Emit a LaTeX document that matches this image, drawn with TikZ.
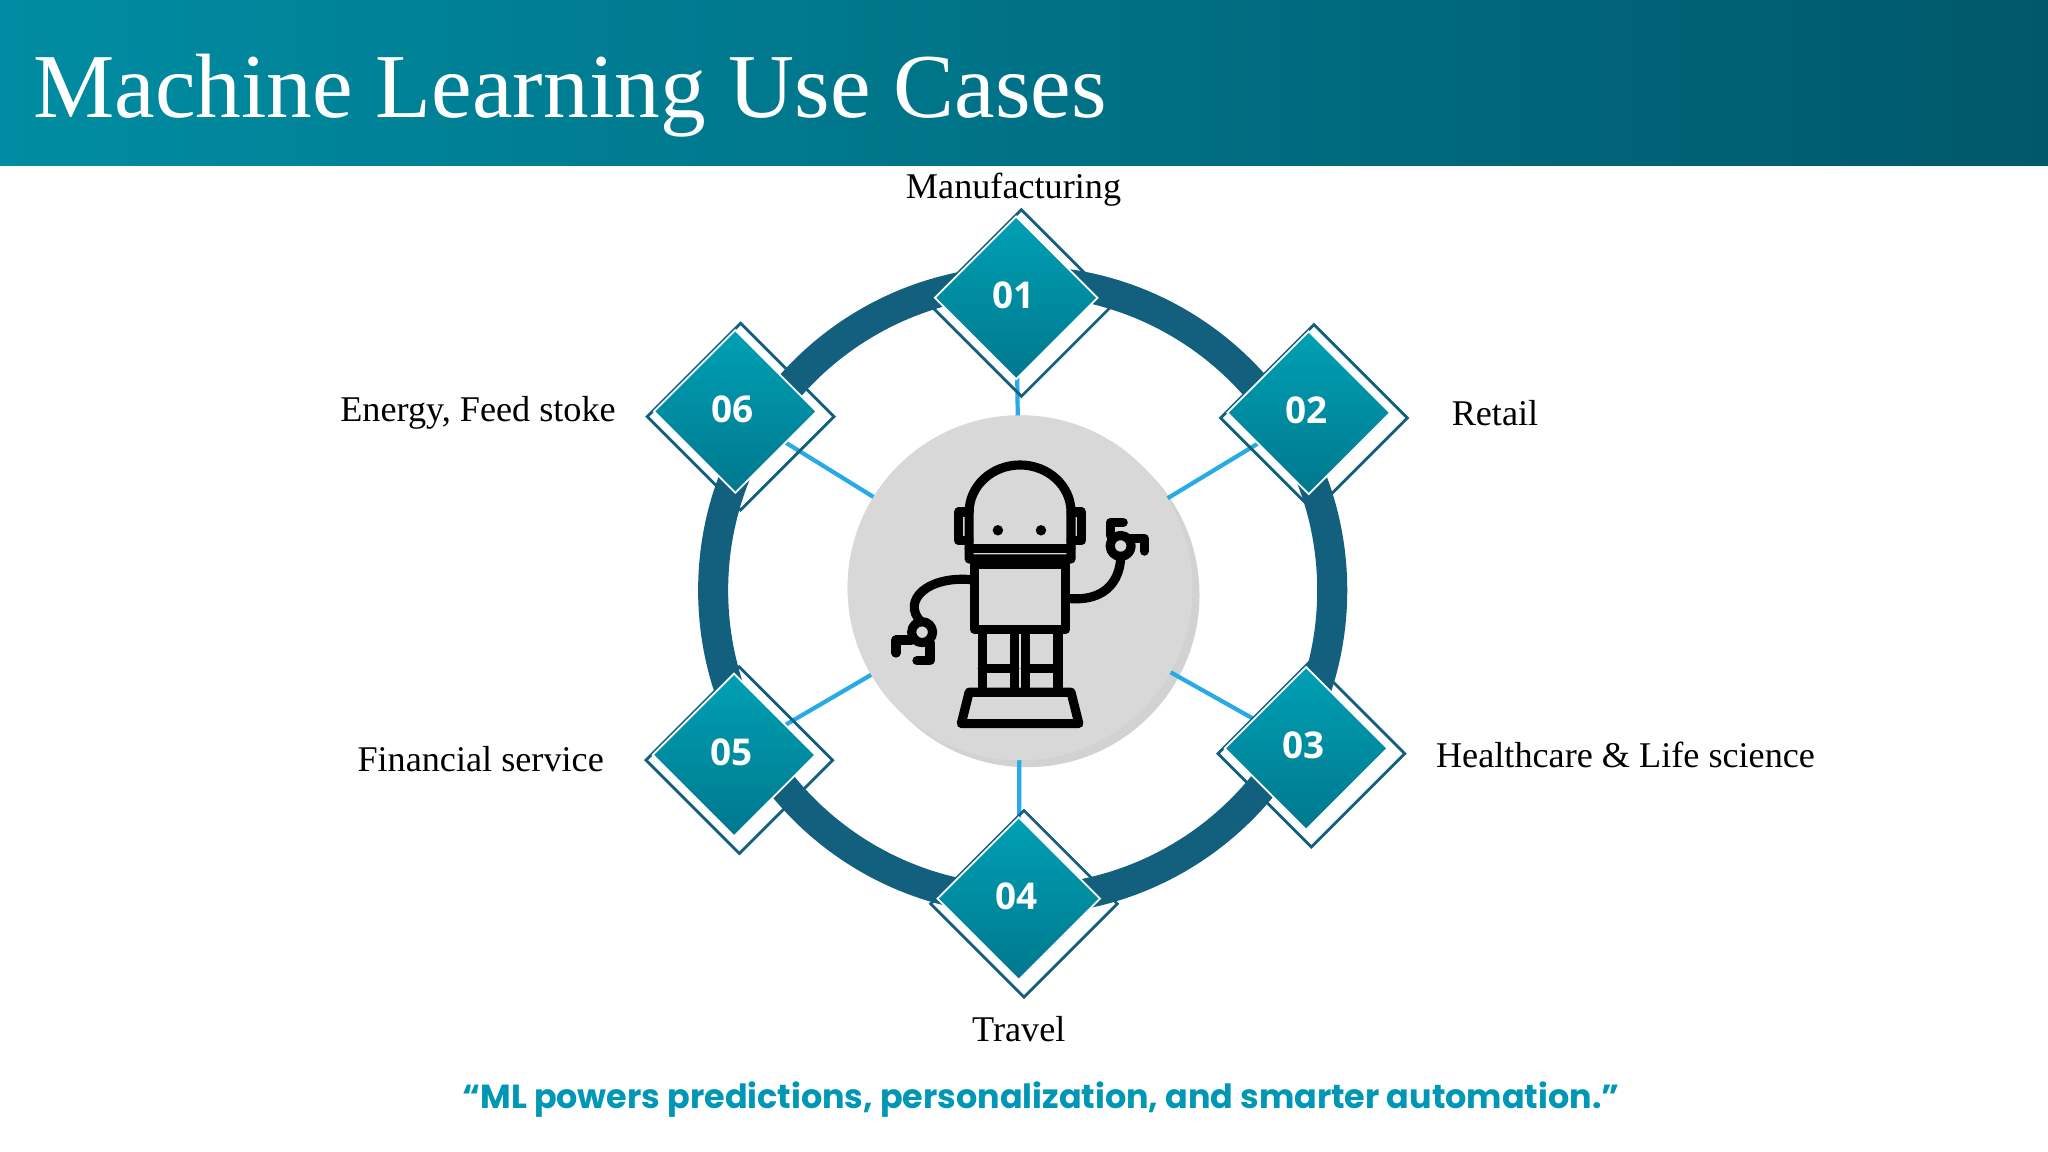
\documentclass[tikz,border=0pt]{standalone}
\usepackage{fontspec}
\setmainfont{Liberation Serif}
\newfontfamily\numfont{Open Sans}
\newfontfamily\quotefont{Poppins}
\usetikzlibrary{shadows,calc}
\definecolor{hdrL}{RGB}{0,140,162}
\definecolor{hdrR}{RGB}{0,88,108}
\definecolor{ring}{RGB}{18,96,126}
\definecolor{dtop}{RGB}{0,160,180}
\definecolor{dbot}{RGB}{0,120,142}
\definecolor{spoke}{RGB}{40,170,230}
\definecolor{quotec}{RGB}{0,150,182}
\definecolor{cgray}{RGB}{216,216,216}
\tikzset{
  lbl/.style={font=\fontsize{10.3}{12}\selectfont, text=black},
  dia/.style={draw=white, line width=0.5pt, rotate=45, minimum size=1.15cm, inner sep=0pt,
     top color=dtop, bottom color=dbot, shading angle=0},
  diaout/.style={draw=ring, line width=0.8pt, rotate=45, minimum size=1.32cm, inner sep=0pt},
  num/.style={font=\numfont\bfseries\fontsize{10.5}{12}\selectfont, text=white},
  spk/.style={draw=spoke, line width=1.2pt},
  rob/.style={line width=2.6pt, line join=round, line cap=round, draw=black}
}
\begin{document}
\begin{tikzpicture}[x=0.01306cm,y=-0.01306cm]
\useasboundingbox (0,0) rectangle (1568,882);
\fill[white] (0,0) rectangle (1568,882);
\shade[left color=hdrL, right color=hdrR] (0,0) rectangle (1568,127);
\node[anchor=base west, text=white, font=\fontsize{26}{30}\selectfont, inner sep=0pt] (title) at (25,90) {Machine Learning Use Cases};
% ring
\coordinate (c) at (783,452);
\draw[ring, line width=23*0.01306cm] (c) circle (237);
% center circle
\node[circle, fill=cgray, minimum size=264*0.01306cm, drop shadow={opacity=0.35, shadow xshift=2pt, shadow yshift=-2pt}] (hub) at (781,450) {};
\foreach \n/\x/\y in {01/778/228, 02/1002/316, 03/1000/573, 04/780/688, 05/562/578, 06/563/315}{
  \draw[spk] (hub.center) -- (\x,\y);
}
\fill[cgray] (hub) circle (132);
\foreach \n/\x/\y in {01/778/228, 02/1002/316, 03/1000/573, 04/780/688, 05/562/578, 06/563/315}{
  \node[diaout] (o\n) at (\x+4,\y+4) {};
  \node[dia] (d\n) at (\x,\y) {};
  \node[num] (t\n) at (\x-2,\y-2) {\n};
}
% labels
\node[lbl] (l1) at (776,145) {Manufacturing};
\node[lbl, anchor=west] (l2) at (1102,316) {Retail};
\node[lbl, anchor=west] (l3) at (1090,578) {Healthcare \& Life science};
\node[lbl] (l4) at (780,788) {Travel};
\node[lbl] (l5) at (368,581) {Financial service};
\node[lbl] (l6) at (366,316) {Energy, Feed stoke};
\node[font=\quotefont\bfseries\fontsize{9.5}{11}\selectfont, text=quotec] (q) at (797,842) {“ML powers predictions, personalization, and smarter automation.”};
% robot
\begin{scope}[rob]
  % head
  \draw (742,428) -- (742,392) arc[start angle=180,end angle=360,x radius=39,y radius=36] -- (820,428) -- cycle;
  \draw (742,420) -- (820,420);
  \draw (742,392) -- (734,392) -- (734,414) -- (742,414);
  \draw (820,392) -- (828,392) -- (828,414) -- (820,414);
  \fill (764,406) circle (4); \fill (797,406) circle (4);
  % body
  \draw (746,432) rectangle (816,482);
  % legs
  \draw (752,482) rectangle (777,530);
  \draw (785,482) rectangle (810,530);
  \draw (752,512) -- (777,512); \draw (785,512) -- (810,512);
  % feet
  \draw (742,530) -- (820,530) -- (826,554) -- (736,554) -- cycle;
  % left arm
  \draw (746,444) .. controls (710,440) and (690,460) .. (705,476);
  \draw (706,484) circle (8);
  \draw (698,490) -- (686,490) -- (686,500);
  \draw (712,492) -- (712,506) -- (702,506);
  % right arm
  \draw (816,458) .. controls (850,462) and (858,440) .. (858,426);
  \draw (858,418) circle (8);
  \draw (850,410) -- (850,400) -- (860,400);
  \draw (866,412) -- (876,412) -- (876,422);
\end{scope}
\end{tikzpicture}
\end{document}
